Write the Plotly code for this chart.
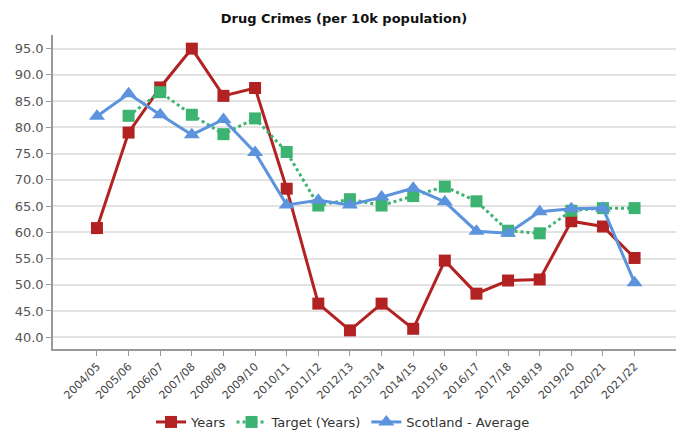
import plotly.graph_objects as go

categories = ["2004/05", "2005/06", "2006/07", "2007/08", "2008/09", "2009/10",
              "2010/11", "2011/12", "2012/13", "2013/14", "2014/15", "2015/16",
              "2016/17", "2017/18", "2018/19", "2019/20", "2020/21", "2021/22"]

years = [60.8, 79.0, 87.6, 95.0, 86.0, 87.5, 68.3, 46.4, 41.3, 46.4, 41.6, 54.6,
         48.3, 50.8, 51.0, 62.1, 61.1, 55.1]

target = [None, 82.2, 86.7, 82.4, 78.7, 81.7, 75.3, 65.1, 66.3, 65.1, 66.9, 68.7,
          65.9, 60.3, 59.8, 64.1, 64.6, 64.6]

scotland = [82.1, 86.4, 82.4, 78.6, 81.5, 75.2, 65.2, 66.1, 65.2, 66.7, 68.4, 65.8,
            60.2, 59.8, 63.9, 64.5, 64.6, 50.4]

y_ticks = [40, 45, 50, 55, 60, 65, 70, 75, 80, 85, 90, 95]

FONT = "DejaVu Sans"
RED = "#b22222"
GREEN = "#3cb371"
BLUE = "#5b93dc"

# the page body has an 8px margin, so the figure is placed at (8, 8)
OFF = 8
W, H = 684 - OFF, 432 - OFF
L, T = 53 - OFF, 35 - OFF
R = W - (682 - OFF)
B = H - (349 - OFF)
PW, PH = W - L - R, H - T - B

idx = list(range(len(categories)))

fig = go.Figure()
fig.add_trace(go.Scatter(
    x=idx, y=years, name="Years", mode="lines+markers",
    line=dict(color=RED, width=3),
    marker=dict(symbol="square", size=12, color=RED),
))
fig.add_trace(go.Scatter(
    x=idx, y=target, name="Target (Years)", mode="lines+markers",
    line=dict(color=GREEN, width=3, dash="dot"),
    marker=dict(symbol="square", size=12, color=GREEN),
))
fig.add_trace(go.Scatter(
    x=idx, y=scotland, name="Scotland - Average", mode="lines+markers",
    line=dict(color=BLUE, width=3),
    marker=dict(symbol="triangle-up", size=14, color=BLUE),
))

fig.update_layout(
    width=W, height=H,
    paper_bgcolor="white", plot_bgcolor="white",
    margin=dict(l=L, r=R, t=T, b=B, autoexpand=False),
    font=dict(family=FONT, size=12, color="#444"),
    title=dict(text="<b>Drug Crimes (per 10k population)</b>",
               font=dict(family=FONT, size=13, color="#111"),
               x=(344 - OFF) / W, xanchor="center", xref="container",
               y=1 - (18 - OFF) / H, yanchor="middle", yref="container"),
    showlegend=True,
    legend=dict(orientation="h", x=(343 - OFF - L) / PW, xanchor="center",
                y=(H - B - (422 - OFF)) / PH, yanchor="middle",
                font=dict(family=FONT, size=13, color="#333"),
                itemwidth=30, tracegroupgap=0, bgcolor="rgba(0,0,0,0)"),
)

fig.update_xaxes(
    range=[-1.39, 18.5], automargin=False,
    tickmode="array", tickvals=idx, ticktext=categories,
    tickangle=-45, tickfont=dict(family=FONT, size=11, color="#444"),
    showgrid=False, zeroline=False,
    showline=True, linecolor="#999", linewidth=1.5,
    ticks="outside", ticklen=5, tickcolor="#999", tickwidth=1,
)
fig.update_yaxes(
    range=[37.75, 97.6], automargin=False,
    tickmode="array", tickvals=y_ticks, ticktext=[f"{v:.1f}" for v in y_ticks],
    tickfont=dict(family=FONT, size=13, color="#555"),
    showgrid=True, gridcolor="#e2e2e2", gridwidth=1.5, zeroline=False,
    showline=True, linecolor="#999", linewidth=1.5,
    ticks="outside", ticklen=5, tickcolor="#999", tickwidth=1,
)

fig.write_html("out.html")
